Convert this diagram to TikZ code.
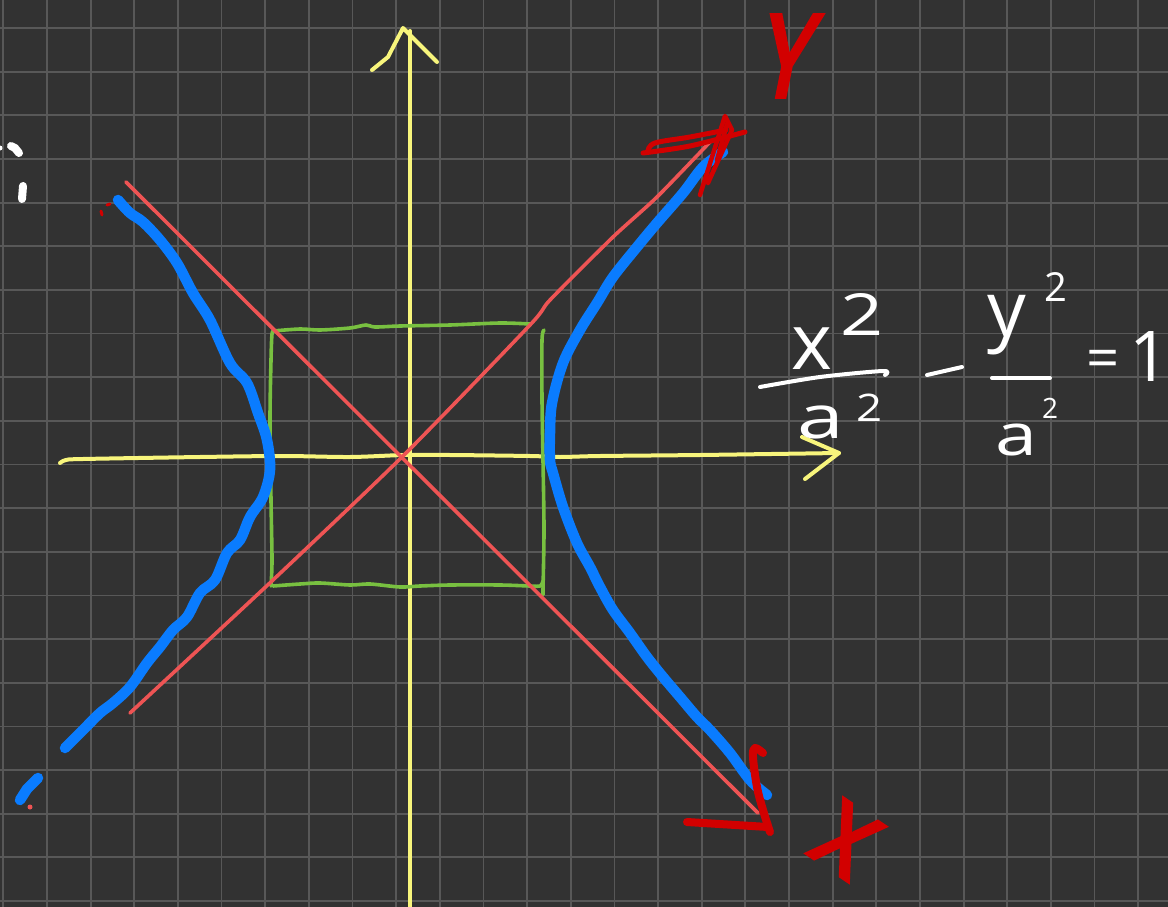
\documentclass[tikz,border=0pt]{standalone}
\usepackage{fontspec}
\newfontfamily\hand{Open Sans}
\newfontfamily\labfont[FakeBold=3]{Poppins}
\definecolor{bg}{HTML}{323232}
\definecolor{gridc}{HTML}{585858}
\definecolor{axisy}{HTML}{F8F57C}
\definecolor{asym}{HTML}{EE5454}
\definecolor{boxg}{HTML}{78C040}
\definecolor{hyp}{HTML}{0A7CFF}
\definecolor{ink}{HTML}{D20000}
\tikzset{
  gridline/.style={draw=gridc, line width=1.8pt},
  axisline/.style={draw=axisy, line width=4pt, line cap=round, line join=round},
  asymline/.style={draw=asym, line width=3.6pt, line cap=round, line join=round},
  boxline/.style={draw=boxg, line width=3.6pt, line cap=round, line join=round},
  hypline/.style={draw=hyp, line width=10.5pt, line cap=round, line join=round},
  inkline/.style={draw=ink, line width=8pt, line cap=round, line join=round},
  chalk/.style={draw=white, line width=4pt, line cap=round, line join=round},
  glyph/.style={text=white, inner sep=0pt},
  label/.style={text=ink, inner sep=0pt},
}
\begin{document}
\begin{tikzpicture}[x=1pt,y=-1pt]
\useasboundingbox (0,0) rectangle (1168,907);
\fill[bg] (0,0) rectangle (1168,907);
% grid
\foreach \i in {0,...,26} \draw[gridline] ({3.3+43.65*\i},0) -- ({3.3+43.65*\i},907);
\foreach \j in {0,...,20} \draw[gridline] (0,{28+43.65*\j}) -- (1168,{28+43.65*\j});
% axes
\draw[axisline] (410,31) -- (410,907);
\draw[axisline] (372,70) -- (388,57) -- (403,28) -- (437,62);
\draw[axisline] plot[smooth, tension=0.5] coordinates {(60,463) (66,460) (83,459) (200,457) (283,456) (350,457) (404,455) (450,455) (530,456) (560,457) (600,456) (700,455) (839,453)};
\draw[axisline] (802,437) -- (839,453) -- (805,479);
% green rectangle
\draw[boxline] plot[smooth, tension=0.5] coordinates {(273,331) (300,329) (320,330) (350,328) (366,325) (375,327) (400,326) (450,325) (500,323) (530,324)};
\draw[boxline] plot[smooth, tension=0.5] coordinates {(274,331) (272,334) (271,360) (270,420) (271,500) (272,560) (271,586)};
\draw[boxline] plot[smooth, tension=0.5] coordinates {(544,330) (542,340) (542,400) (543,460) (544,530) (543,590) (543,593)};
\draw[boxline] plot[smooth, tension=0.5] coordinates {(273,586) (300,584) (320,583) (350,585) (370,584) (400,587) (420,586) (450,585) (500,585) (530,586) (540,586) (543,581)};
% asymptotes
\draw[asymline] (126,182) -- (758,813);
\draw[asymline] plot[smooth, tension=0.4] coordinates {(130,713) (273,580) (404,455) (530,325) (550,300) (613,237) (657,197) (710,142)};
% hyperbola
\draw[hypline] plot[smooth, tension=0.55] coordinates {(118,200) (130,213) (143,222) (160,240) (177,263) (193,293) (210,320) (230,363) (247,383) (258,413) (267,440) (270,470) (263,497) (250,517) (240,540) (227,553) (215,580) (200,593) (187,617) (173,630) (160,647) (147,663) (130,687) (113,703) (100,713) (83,730) (65,748)};
\draw[hypline] plot[smooth, tension=0.55] coordinates {(723,152) (703,167) (683,193) (657,223) (637,247) (613,277) (597,303) (580,330) (563,363) (552,403) (550,433) (550,460) (553,473) (563,507) (577,543) (590,567) (600,587) (613,610) (630,633) (647,657) (663,677) (680,697) (697,717) (710,730) (730,753) (750,780) (767,795)};
\draw[hypline] (20,800) -- (27,789) -- (38,778);
% small marks
\fill[asym] (30,807) circle (2.5);
\draw[draw=ink, line width=3pt, line cap=round] (101,211) -- (102,215);
\draw[draw=ink, line width=3pt, line cap=round] (107,205) -- (110,204);
\draw[draw=white, line width=8pt, line cap=round] (11,146) -- (15,148) -- (19,153);
\draw[draw=white, line width=8pt, line cap=round] (23,186) -- (22,199);
\fill[white] (0,148) circle (2.5);
% red arrows
\draw[inkline, line width=5pt] plot[smooth, tension=0.5] coordinates {(643,153) (690,146) (745,132)};
\draw[inkline, line width=5pt] plot[smooth, tension=0.6] coordinates {(648,151) (655,143) (690,137) (726,130)};
\draw[inkline, line width=4.5pt] (700,195) -- (725,116) -- (732,130) -- (708,183);
\draw[inkline, line width=4.5pt] (717,160) -- (727,124);
\draw[inkline] plot[smooth, tension=0.6] coordinates {(763,753) (755,748) (753,757) (757,787) (763,810) (770,832)};
\draw[inkline] (687,822) -- (768,827);
% axis labels
\node[label, font=\labfont\fontsize{118}{118}\selectfont, xscale=0.8, xslant=0.25] (ylab) at (789,56) {Y};
\node[label, font=\labfont\fontsize{96}{96}\selectfont, rotate=-34] (xlab) at (846,840) {X};
% equation
\node[glyph, font=\hand\fontsize{78}{78}\selectfont] (x1) at (812,349) {x};
\node[glyph, font=\hand\fontsize{58}{58}\selectfont, xscale=1.3] (x1e) at (862,314) {2};
\draw[chalk] plot[smooth, tension=0.5] coordinates {(760,387) (820,377) (883,371) (885,375)};
\node[glyph, font=\hand\fontsize{60}{60}\selectfont, xscale=1.4] (a1) at (821,422) {a};
\node[glyph, font=\hand\fontsize{38}{38}\selectfont, xscale=1.2] (a1e) at (870,408) {2};
\draw[chalk] (927,375) -- (962,367);
\node[glyph, font=\hand\fontsize{77}{77}\selectfont] (y1) at (1007,325) {y};
\node[glyph, font=\hand\fontsize{40}{40}\selectfont] (y1e) at (1056,287) {2};
\draw[chalk] (992,378) -- (1050,378);
\node[glyph, font=\hand\fontsize{58}{58}\selectfont, xscale=1.3] (a2) at (1016,440) {a};
\node[glyph, font=\hand\fontsize{28}{28}\selectfont] (a2e) at (1050,408) {2};
\node[glyph, font=\hand\fontsize{58}{58}\selectfont] (eq) at (1103,364) {=};
\node[glyph, font=\hand\fontsize{70}{70}\selectfont] (one) at (1150,357) {1};
\end{tikzpicture}
\end{document}
